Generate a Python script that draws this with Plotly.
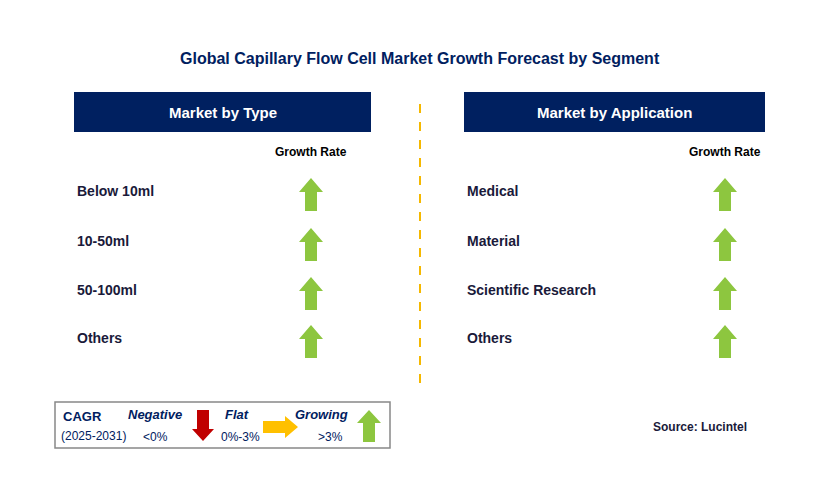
import plotly.graph_objects as go

title = "Global Capillary Flow Cell Market Growth Forecast by Segment"
panel_titles = ["Market by Type", "Market by Application"]
type_segments = ["Below 10ml", "10-50ml", "50-100ml", "Others"]
app_segments = ["Medical", "Material", "Scientific Research", "Others"]
type_trend = ["up", "up", "up", "up"]
app_trend = ["up", "up", "up", "up"]
source = "Source: Lucintel"

NAVY = "#002060"
GREEN = "#8DC63F"
fig = go.Figure()
shapes, ann = [], []

def arrow(cx, top, bottom, color, direction="up", hw=12, sw=6, hh=14):
    if direction == "up":
        p = (f"M{cx},{top} L{cx+hw},{top+hh} L{cx+sw},{top+hh} L{cx+sw},{bottom} "
             f"L{cx-sw},{bottom} L{cx-sw},{top+hh} L{cx-hw},{top+hh} Z")
    elif direction == "down":
        p = (f"M{cx},{bottom} L{cx+hw},{bottom-hh} L{cx+sw},{bottom-hh} L{cx+sw},{top} "
             f"L{cx-sw},{top} L{cx-sw},{bottom-hh} L{cx-hw},{bottom-hh} Z")
    else:  # right: top=left x, bottom=right x, cx = center y
        l, r, cy = top, bottom, cx
        p = (f"M{r},{cy} L{r-hh},{cy-hw} L{r-hh},{cy-sw} L{l},{cy-sw} "
             f"L{l},{cy+sw} L{r-hh},{cy+sw} L{r-hh},{cy+hw} Z")
    shapes.append(dict(type="path", path=p, fillcolor=color, line=dict(width=0), layer="above"))

def text(x, y, s, size=14, color="#1a1a3a", bold=True, xanchor="left", italic=False, family="Arial"):
    if bold: s = f"<b>{s}</b>"
    if italic: s = f"<i>{s}</i>"
    ann.append(dict(x=x, y=y, text=s, showarrow=False, xanchor=xanchor, yanchor="middle",
                    font=dict(size=size, color=color, family=family)))

text(420, 58, title, 16, NAVY, xanchor="center")
rows_y = [191, 241, 290, 338]
for (x0, x1, ax, segs, trends, pt) in [(74, 371, 311, type_segments, type_trend, panel_titles[0]),
                                       (464, 765, 725, app_segments, app_trend, panel_titles[1])]:
    shapes.append(dict(type="rect", x0=x0, x1=x1, y0=92, y1=132, fillcolor=NAVY, line=dict(width=0)))
    text((x0 + x1) / 2, 112, pt, 15, "white", xanchor="center")
    text(ax, 152, "Growth Rate", 12, "black", xanchor="center")
    for y, s, t in zip(rows_y, segs, trends):
        text(x0 + 1, y, s, 14)
        arrow(ax, y - 13, y + 20, GREEN, t)

shapes.append(dict(type="line", x0=420, x1=420, y0=104, y1=388,
                   line=dict(color="#F5B800", width=2, dash="dash")))

# legend box
shapes.append(dict(type="rect", x0=55, x1=390, y0=402, y1=448, line=dict(color="#888", width=1.5)))
text(61, 416, "CAGR", 13, NAVY)
text(59, 436, "(2025-2031)", 12, NAVY, bold=False)
text(155, 414, "Negative", 13, NAVY, italic=True, xanchor="center")
text(155, 437, "<0%", 12, NAVY, bold=False, xanchor="center")
arrow(203, 410, 441, "#C00000", "down", hw=11, sw=6, hh=12)
text(237, 414, "Flat", 13, NAVY, italic=True, xanchor="center")
text(240, 437, "0%-3%", 12, NAVY, bold=False, xanchor="center")
arrow(427, 263, 298, "#FFC000", "right", hw=11, sw=6, hh=13)
text(321, 414, "Growing", 13, NAVY, italic=True, xanchor="center")
text(330, 437, ">3%", 12, NAVY, bold=False, xanchor="center")
arrow(369, 410, 442, GREEN, "up", hw=12, sw=6, hh=13)

text(749, 427, source, 12, "#1a1a3a", xanchor="right")

fig.update_layout(width=829, height=496, margin=dict(l=0, r=0, t=0, b=0),
                  paper_bgcolor="white", plot_bgcolor="white", shapes=shapes, annotations=ann,
                  xaxis=dict(range=[8, 837], visible=False, fixedrange=True),
                  yaxis=dict(range=[504, 8], visible=False, fixedrange=True),
                  showlegend=False)
fig.write_html("out.html", config=dict(displayModeBar=False))
